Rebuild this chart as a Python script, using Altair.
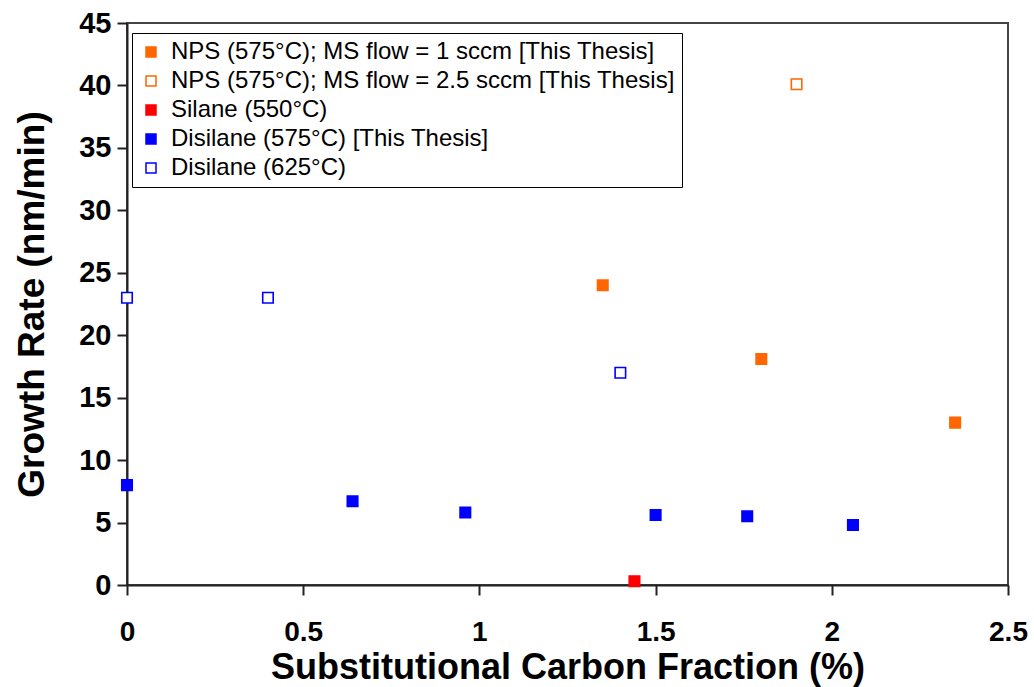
import altair as alt
import pandas as pd

# Series labels (legend order)
series_names = [
    "\u00a0NPS (575°C); MS flow = 1 sccm [This Thesis]",
    "\u00a0NPS (575°C); MS flow = 2.5 sccm [This Thesis]",
    "Silane (550°C)",
    "Disilane (575°C) [This Thesis]",
    "Disilane (625°C)",
]
fill_colors = ["#FF6600", "#FFFFFF", "#FF0000", "#0000FF", "#FFFFFF"]
stroke_colors = ["#FF6600", "#FF6600", "#FF0000", "#0000FF", "#0000FF"]

# Values
nps1_x = [1.35, 1.80, 2.35]
nps1_y = [24.0, 18.1, 13.0]
nps25_x = [1.90]
nps25_y = [40.1]
silane_x = [1.44]
silane_y = [0.3]
dis575_x = [0.0, 0.64, 0.96, 1.50, 1.76, 2.06]
dis575_y = [8.0, 6.7, 5.8, 5.6, 5.5, 4.8]
dis625_x = [0.0, 0.40, 1.40]
dis625_y = [23.0, 23.0, 17.0]

x_ticks = [0, 0.5, 1, 1.5, 2, 2.5]
y_ticks = [0, 5, 10, 15, 20, 25, 30, 35, 40, 45]

rows = []
for name, xs, ys in zip(
    series_names,
    [nps1_x, nps25_x, silane_x, dis575_x, dis625_x],
    [nps1_y, nps25_y, silane_y, dis575_y, dis625_y],
):
    for xv, yv in zip(xs, ys):
        rows.append({"series": name, "x": xv, "y": yv})
df = pd.DataFrame(rows)

FONT = "Liberation Sans, Arial, Helvetica, sans-serif"

legend_opts = dict(
    title=None,
    orient="none",
    legendX=5,
    legendY=10,
    strokeColor="black",
    fillColor="white",
    padding=7,
    symbolType="square",
    symbolSize=100,
    symbolStrokeWidth=1.5,
    labelFont=FONT,
    labelFontSize=24,
    labelColor="black",
    labelLimit=0,
    labelOffset=8,
    rowPadding=5,
    cornerRadius=0,
)

chart = (
    alt.Chart(df)
    .mark_square(size=110, strokeWidth=1.6, opacity=1)
    .encode(
        x=alt.X(
            "x:Q",
            scale=alt.Scale(domain=[0, 2.5], nice=False, zero=False),
            axis=alt.Axis(
                title="Substitutional Carbon Fraction (%)",
                values=x_ticks,
                format="~g",
                grid=False,
                tickSize=10,
                tickWidth=2,
                tickColor="#222222",
                domainColor="#222222",
                domainWidth=2,
                labelPadding=23,
                labelFont=FONT,
                labelFontSize=28,
                labelFontWeight="bold",
                labelColor="black",
                labelFlush=False,
                titleFont=FONT,
                titleFontSize=36,
                titleFontWeight="bold",
                titleColor="black",
                titlePadding=4,
            ),
        ),
        y=alt.Y(
            "y:Q",
            scale=alt.Scale(domain=[0, 45], nice=False, zero=True),
            axis=alt.Axis(
                title="Growth Rate (nm/min)",
                values=y_ticks,
                grid=False,
                tickSize=10,
                tickWidth=2,
                tickColor="#222222",
                domainColor="#222222",
                domainWidth=2,
                labelPadding=6,
                labelFont=FONT,
                labelFontSize=29,
                labelFontWeight="bold",
                labelColor="black",
                labelFlush=False,
                titleFont=FONT,
                titleFontSize=37,
                titleFontWeight="bold",
                titleColor="black",
                titlePadding=27,
            ),
        ),
        fill=alt.Fill(
            "series:N",
            scale=alt.Scale(domain=series_names, range=fill_colors),
            legend=alt.Legend(**legend_opts),
        ),
        stroke=alt.Stroke(
            "series:N",
            scale=alt.Scale(domain=series_names, range=stroke_colors),
            legend=alt.Legend(**legend_opts),
        ),
    )
    .properties(
        width=881,
        height=562,
        background="white",
        autosize=alt.AutoSizeParams(type="none"),
        padding={"left": 127, "top": 23, "right": 26, "bottom": 102},
    )
    .configure_view(stroke="#444444", strokeWidth=2)
)

chart.save("out.html", embed_options={"renderer": "svg", "actions": False})
